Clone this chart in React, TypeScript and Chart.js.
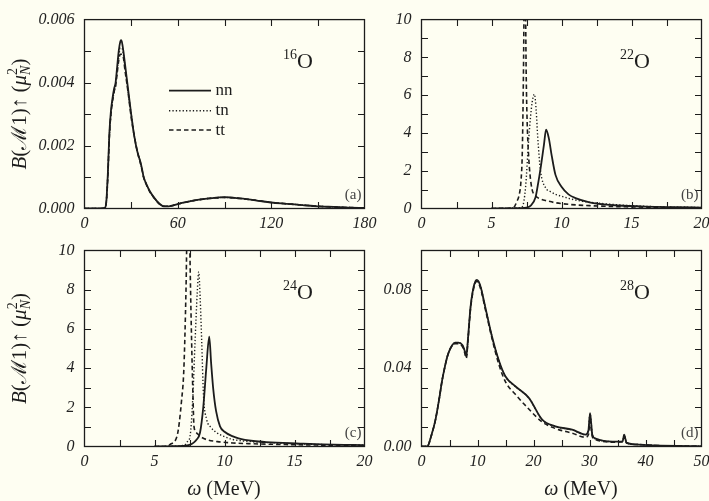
import React, { useEffect, useRef } from 'react';
import { Chart, registerables } from 'chart.js';

Chart.register(...registerables);

const W = 709;
const H = 501;
const CW = 760;
const CH = 540;
const BG = '#fefef2';
const INK = '#1c1c1c';
const SERIF = '"Liberation Serif", "DejaVu Serif", serif';

// ---------- Panel (a): 16O ----------
const aX = [0, 10, 13, 14, 15, 16, 17, 18, 19, 20, 21, 22, 23, 23.5, 24, 25, 26, 28, 30, 32, 34, 36, 37, 38, 40, 42, 45, 48, 51, 54, 57, 60, 65, 70, 75, 80, 90, 100, 110, 120, 130, 140, 150, 160, 170, 180];
const aNN = [0, 0, 0.00002, 0.0002, 0.0011, 0.0024, 0.0031, 0.0035, 0.0038, 0.004, 0.0045, 0.005, 0.0053, 0.00535, 0.0053, 0.005, 0.0046, 0.0038, 0.003, 0.0023, 0.0018, 0.00147, 0.00125, 0.001, 0.00075, 0.00055, 0.00033, 0.00016, 0.00007, 0.00007, 0.0001, 0.00014, 0.0002, 0.00025, 0.00029, 0.00032, 0.00036, 0.00032, 0.00026, 0.00019, 0.00015, 0.00011, 0.00007, 0.00005, 0.00003, 0.00002];
const aTN = [0, 0, 0.00002, 0.0002, 0.0011, 0.0023, 0.003, 0.0034, 0.0037, 0.0039, 0.0044, 0.0048, 0.0051, 0.0051, 0.0051, 0.0049, 0.0045, 0.0037, 0.003, 0.0023, 0.0018, 0.00145, 0.00123, 0.001, 0.00074, 0.00054, 0.00032, 0.00016, 0.00007, 0.00007, 0.0001, 0.00014, 0.0002, 0.00025, 0.00029, 0.00032, 0.00035, 0.00032, 0.00026, 0.00019, 0.00015, 0.00011, 0.00007, 0.00005, 0.00003, 0.00002];
const aTT = [0, 0, 0.00002, 0.0002, 0.001, 0.0023, 0.003, 0.0034, 0.0037, 0.0039, 0.0043, 0.0047, 0.0049, 0.0049, 0.0049, 0.0048, 0.0044, 0.0037, 0.0029, 0.0023, 0.0018, 0.00143, 0.00122, 0.001, 0.00073, 0.00053, 0.00032, 0.00015, 0.00007, 0.00007, 0.0001, 0.00014, 0.0002, 0.00025, 0.00029, 0.00032, 0.00035, 0.00032, 0.00026, 0.00019, 0.00015, 0.00011, 0.00007, 0.00005, 0.00003, 0.00002];

// ---------- Panel (b): 22O ----------
const bNNx = [5, 6, 7, 7.5, 7.8, 8.14, 8.3, 8.5, 8.75, 8.9, 9.1, 9.3, 9.57, 10, 10.5, 11, 12, 13, 14, 16, 18, 20];
const bNN = [0, 0.01, 0.02, 0.05, 0.15, 0.58, 1.2, 2.1, 3.4, 4.17, 3.7, 2.8, 1.78, 1.15, 0.75, 0.55, 0.33, 0.22, 0.16, 0.1, 0.07, 0.05];
const bTNx = [5, 6, 6.8, 7.2, 7.43, 7.67, 7.9, 8.07, 8.2, 8.3, 8.5, 8.86, 9.2, 9.57, 10, 10.7, 11.5, 13.1, 15, 16.6, 20];
const bTN = [0, 0.01, 0.03, 0.1, 1.1, 3.8, 5.6, 6.05, 5.1, 3.8, 2.0, 1.1, 0.9, 0.75, 0.65, 0.5, 0.38, 0.25, 0.15, 0.1, 0.05];
const bTTx = [5, 6, 6.57, 6.8, 7.0, 7.1, 7.2, 7.28, 7.38, 7.48, 7.55, 7.65, 7.75, 7.9, 8.1, 8.5, 9, 9.6, 10.5, 12, 14, 17, 20];
const bTT = [0, 0.01, 0.05, 0.35, 0.8, 1.4, 3, 7, 14, 7, 4.5, 2.8, 1.8, 1.0, 0.7, 0.5, 0.4, 0.3, 0.22, 0.15, 0.1, 0.06, 0.04];

// ---------- Panel (c): 24O ----------
const cNNx = [5, 6, 7, 7.5, 7.8, 8.0, 8.25, 8.49, 8.7, 8.91, 9.05, 9.2, 9.4, 9.68, 10, 10.6, 11, 12.05, 13, 15.4, 17, 19.2, 20];
const cNN = [0, 0.01, 0.03, 0.08, 0.2, 0.35, 0.7, 2.05, 4.0, 5.6, 4.2, 2.9, 1.8, 1.03, 0.75, 0.52, 0.42, 0.28, 0.22, 0.15, 0.11, 0.08, 0.07];
const cTNx = [5, 6, 7, 7.2, 7.4, 7.54, 7.73, 7.9, 8.05, 8.16, 8.26, 8.37, 8.5, 8.73, 9.0, 9.45, 10, 10.6, 12, 13, 15, 17, 20];
const cTN = [0, 0.01, 0.05, 0.1, 0.3, 0.52, 2.4, 5.4, 7.8, 8.9, 7.6, 5.4, 2.6, 1.37, 1.0, 0.7, 0.5, 0.36, 0.24, 0.2, 0.14, 0.1, 0.07];
const cTTx = [5, 6, 6.1, 6.6, 6.94, 7.1, 7.25, 7.42, 7.55, 7.65, 7.75, 7.82, 8.0, 8.3, 8.73, 9.5, 10.6, 12, 13, 15, 17, 20];
const cTT = [0, 0.02, 0.1, 0.5, 2.4, 4, 8, 15, 9, 5.4, 2.5, 1.03, 0.7, 0.5, 0.35, 0.25, 0.18, 0.14, 0.12, 0.09, 0.07, 0.05];

// ---------- Panel (d): 28O ----------
const dX = [0, 1, 1.8, 2.5, 3.2, 3.7, 4.2, 4.6, 5.0, 5.5, 6.0, 6.6, 7.3, 7.7, 8.0, 8.3, 8.75, 9.2, 9.64, 9.9, 10.5, 11.4, 12.6, 13.8, 15, 16.8, 19.2, 21.55, 23.9, 26.9, 29.3, 29.8, 30.1, 30.3, 30.5, 31.1, 34.1, 35.9, 36.2, 36.4, 36.6, 38.8, 41.8, 47.8, 50];
const dNN = [0, 0, 0.006, 0.0137, 0.025, 0.034, 0.041, 0.0458, 0.049, 0.0518, 0.053, 0.053, 0.0518, 0.049, 0.046, 0.055, 0.071, 0.08, 0.0844, 0.085, 0.082, 0.071, 0.056, 0.044, 0.0357, 0.0306, 0.0247, 0.0137, 0.0103, 0.0086, 0.0061, 0.008, 0.017, 0.012, 0.006, 0.004, 0.0025, 0.0025, 0.006, 0.004, 0.002, 0.001, 0.0005, 0.0002, 0.0001];
const dTN = [0, 0, 0.006, 0.0137, 0.025, 0.034, 0.041, 0.0458, 0.049, 0.0517, 0.0529, 0.0529, 0.0517, 0.0489, 0.0459, 0.0549, 0.0709, 0.0799, 0.0843, 0.0849, 0.0819, 0.0709, 0.0559, 0.0439, 0.0356, 0.0305, 0.0246, 0.0136, 0.0102, 0.0085, 0.006, 0.0079, 0.0168, 0.0119, 0.006, 0.004, 0.0025, 0.0025, 0.006, 0.004, 0.002, 0.001, 0.0005, 0.0002, 0.0001];
const dTT = [0, 0, 0.006, 0.0137, 0.025, 0.034, 0.041, 0.0458, 0.049, 0.0515, 0.0525, 0.0525, 0.051, 0.048, 0.045, 0.054, 0.07, 0.079, 0.0838, 0.0842, 0.081, 0.07, 0.055, 0.042, 0.033, 0.0265, 0.019, 0.0125, 0.0092, 0.0068, 0.0047, 0.006, 0.013, 0.009, 0.005, 0.0035, 0.0022, 0.0025, 0.005, 0.0035, 0.0018, 0.001, 0.0005, 0.0002, 0.0001];

const seriesLabels = ['nn', 'tn', 'tt'];

type Run = { t: string; f: string; dy?: number; hold?: boolean };

const STYLES = [
  { width: 1.8, dash: [] as number[] },
  { width: 1.4, dash: [1.3, 2.1] },
  { width: 1.6, dash: [4.5, 3] },
];

function drawRuns(ctx: CanvasRenderingContext2D, runs: Run[], x: number, y: number, align: 'left' | 'center' | 'right') {
  const widths = runs.map((r) => {
    ctx.font = r.f;
    return ctx.measureText(r.t).width;
  });
  let total = 0;
  let pending = 0;
  runs.forEach((r, i) => {
    if (r.hold) pending = Math.max(pending, widths[i]);
    else {
      total += Math.max(widths[i], pending);
      pending = 0;
    }
  });
  let cx = align === 'center' ? x - total / 2 : align === 'right' ? x - total : x;
  pending = 0;
  ctx.textAlign = 'left';
  ctx.textBaseline = 'alphabetic';
  runs.forEach((r, i) => {
    ctx.font = r.f;
    ctx.fillText(r.t, cx, y + (r.dy || 0));
    if (r.hold) pending = Math.max(pending, widths[i]);
    else {
      cx += Math.max(widths[i], pending);
      pending = 0;
    }
  });
}

type PanelDef = {
  area: { l: number; t: number; r: number; b: number };
  xMax: number;
  xStep: number;
  xMajor: number;
  yMax: number;
  yStep: number;
  yMajor: number;
  yDec: number;
  series: { x: number[]; y: number[] }[];
  mass: string;
  tag: string;
  legend: boolean;
  yTitle: boolean;
  xTitleX: number | null;
};

const PANELS: PanelDef[] = [
  {
    area: { l: 84.5, t: 13.5, r: 364.5, b: 208.5 },
    xMax: 180, xStep: 30, xMajor: 60, yMax: 0.006, yStep: 0.001, yMajor: 0.002, yDec: 3,
    series: [{ x: aX, y: aNN }, { x: aX, y: aTN }, { x: aX, y: aTT }],
    mass: '16', tag: '(a)', legend: true, yTitle: true, xTitleX: null,
  },
  {
    area: { l: 421.5, t: 13.5, r: 701.5, b: 208.5 },
    xMax: 20, xStep: 2.5, xMajor: 5, yMax: 10, yStep: 1, yMajor: 2, yDec: 0,
    series: [{ x: bNNx, y: bNN }, { x: bTNx, y: bTN }, { x: bTTx, y: bTT }],
    mass: '22', tag: '(b)', legend: false, yTitle: false, xTitleX: null,
  },
  {
    area: { l: 84.5, t: 250.5, r: 364.5, b: 446.5 },
    xMax: 20, xStep: 2.5, xMajor: 5, yMax: 10, yStep: 1, yMajor: 2, yDec: 0,
    series: [{ x: cNNx, y: cNN }, { x: cTNx, y: cTN }, { x: cTTx, y: cTT }],
    mass: '24', tag: '(c)', legend: false, yTitle: true, xTitleX: 224,
  },
  {
    area: { l: 421.5, t: 250.5, r: 701.5, b: 446.5 },
    xMax: 50, xStep: 5, xMajor: 10, yMax: 0.1, yStep: 0.01, yMajor: 0.04, yDec: 2,
    series: [{ x: dX, y: dNN }, { x: dX, y: dTN }, { x: dX, y: dTT }],
    mass: '28', tag: '(d)', legend: false, yTitle: false, xTitleX: 581,
  },
];

const YW = 60;
const XH = 30;

function isMajor(v: number, step: number) {
  const q = v / step;
  return Math.abs(q - Math.round(q)) < 1e-6;
}

function PanelChart({ p }: { p: PanelDef }) {
  const ref = useRef<HTMLCanvasElement | null>(null);
  useEffect(() => {
    if (!ref.current) return;
    const tickFont = { family: SERIF, size: 16, style: 'italic' as const };
    const decor = {
      id: 'decor',
      afterDraw(chart: any) {
        const ctx: CanvasRenderingContext2D = chart.ctx;
        const { left, top, right, bottom } = chart.chartArea;
        const xs = chart.scales.x;
        const ys = chart.scales.y;
        ctx.save();
        ctx.strokeStyle = INK;
        ctx.lineWidth = 1.3;
        ctx.setLineDash([]);
        ctx.strokeRect(left, top, right - left, bottom - top);
        const TL = 6.5;
        ctx.lineWidth = 1.1;
        ctx.beginPath();
        xs.ticks.forEach((t: any) => {
          const px = Math.round(xs.getPixelForValue(t.value)) + 0.5;
          if (px <= left + 1 || px >= right - 1) return;
          ctx.moveTo(px, bottom);
          ctx.lineTo(px, bottom - TL);
          ctx.moveTo(px, top);
          ctx.lineTo(px, top + TL);
        });
        ys.ticks.forEach((t: any) => {
          const py = Math.round(ys.getPixelForValue(t.value)) + 0.5;
          if (py <= top + 1 || py >= bottom - 1) return;
          ctx.moveTo(left, py);
          ctx.lineTo(left + TL, py);
          ctx.moveTo(right, py);
          ctx.lineTo(right - TL, py);
        });
        ctx.stroke();

        ctx.fillStyle = INK;
        // nucleus label
        drawRuns(ctx, [
          { t: p.mass, f: `14px ${SERIF}`, dy: -9 },
          { t: 'O', f: `22px ${SERIF}` },
        ], left + 198.5, top + 48.5, 'left');
        // panel tag
        ctx.fillStyle = '#444';
        drawRuns(ctx, [{ t: p.tag, f: `15px ${SERIF}` }], right - 3, bottom - 9.5, 'right');
        ctx.fillStyle = INK;

        if (p.legend) {
          const ly = [90.7, 110.7, 130];
          chart.data.datasets.forEach((ds: any, i: number) => {
            ctx.beginPath();
            ctx.strokeStyle = INK;
            ctx.lineWidth = ds.borderWidth;
            ctx.setLineDash(ds.borderDash || []);
            ctx.moveTo(169, ly[i]);
            ctx.lineTo(211, ly[i]);
            ctx.stroke();
            ctx.setLineDash([]);
            drawRuns(ctx, [{ t: ds.label, f: `17px ${SERIF}` }], 215.5, ly[i] + 4.5, 'left');
          });
        }
        if (p.yTitle) {
          ctx.save();
          ctx.translate(26, (top + bottom) / 2);
          ctx.rotate(-Math.PI / 2);
          const F = 21;
          drawRuns(ctx, [
            { t: 'B', f: `italic ${F}px ${SERIF}` },
            { t: '(', f: `${F}px ${SERIF}` },
            { t: 'ℳ', f: `${F}px ${SERIF}` },
            { t: '1)↑ (', f: `${F}px ${SERIF}` },
            { t: 'μ', f: `italic ${F}px ${SERIF}` },
            { t: '2', f: `14px ${SERIF}`, dy: -9, hold: true },
            { t: 'N', f: `italic 14px ${SERIF}`, dy: 4 },
            { t: ')', f: `${F}px ${SERIF}` },
          ], 0, 0, 'center');
          ctx.restore();
        }
        if (p.xTitleX !== null) {
          drawRuns(ctx, [
            { t: 'ω', f: `italic 20px ${SERIF}` },
            { t: ' (MeV)', f: `20px ${SERIF}` },
          ], p.xTitleX, 495, 'center');
        }
        ctx.restore();
      },
    };

    const chart = new Chart(ref.current, {
      type: 'line',
      data: {
        datasets: p.series.map((s, i) => ({
          label: seriesLabels[i],
          data: s.x.map((x, k) => ({ x, y: s.y[k] })),
          borderColor: INK,
          borderWidth: STYLES[i].width,
          borderDash: STYLES[i].dash,
          pointRadius: 0,
          fill: false,
          cubicInterpolationMode: 'monotone' as const,
        })),
      },
      options: {
        responsive: false,
        maintainAspectRatio: false,
        animation: false,
        events: [],
        layout: {
          padding: {
            left: p.area.l - YW,
            top: p.area.t,
            right: CW - p.area.r,
            bottom: CH - p.area.b - XH,
          },
        },
        plugins: { legend: { display: false }, tooltip: { enabled: false } },
        scales: {
          x: {
            type: 'linear',
            min: 0,
            max: p.xMax,
            afterFit: (s: any) => { s.height = XH; },
            grid: { display: false, drawTicks: false },
            border: { display: false },
            ticks: {
              stepSize: p.xStep,
              autoSkip: false,
              maxRotation: 0,
              padding: 6,
              color: '#222',
              font: tickFont,
              callback: (v: any) => (isMajor(Number(v), p.xMajor) ? String(Math.round(Number(v))) : ''),
            },
          },
          y: {
            type: 'linear',
            min: 0,
            max: p.yMax,
            afterFit: (s: any) => { s.width = YW; },
            grid: { display: false, drawTicks: false },
            border: { display: false },
            ticks: {
              stepSize: p.yStep,
              autoSkip: false,
              padding: 10,
              color: '#222',
              font: tickFont,
              callback: (v: any) => (isMajor(Number(v), p.yMajor) ? Number(v).toFixed(p.yDec) : ''),
            },
          },
        },
      },
      plugins: [decor],
    });
    return () => chart.destroy();
  }, [p]);
  return (
    <canvas
      ref={ref}
      width={CW}
      height={CH}
      style={{ position: 'absolute', left: 0, top: 0, width: CW, height: CH }}
    />
  );
}

export default function App() {
  return (
    <div
      style={{
        position: 'absolute',
        left: 0,
        top: 0,
        width: W,
        height: H,
        overflow: 'hidden',
        background: BG,
      }}
    >
      {PANELS.map((p, i) => (
        <PanelChart key={i} p={p} />
      ))}
    </div>
  );
}
